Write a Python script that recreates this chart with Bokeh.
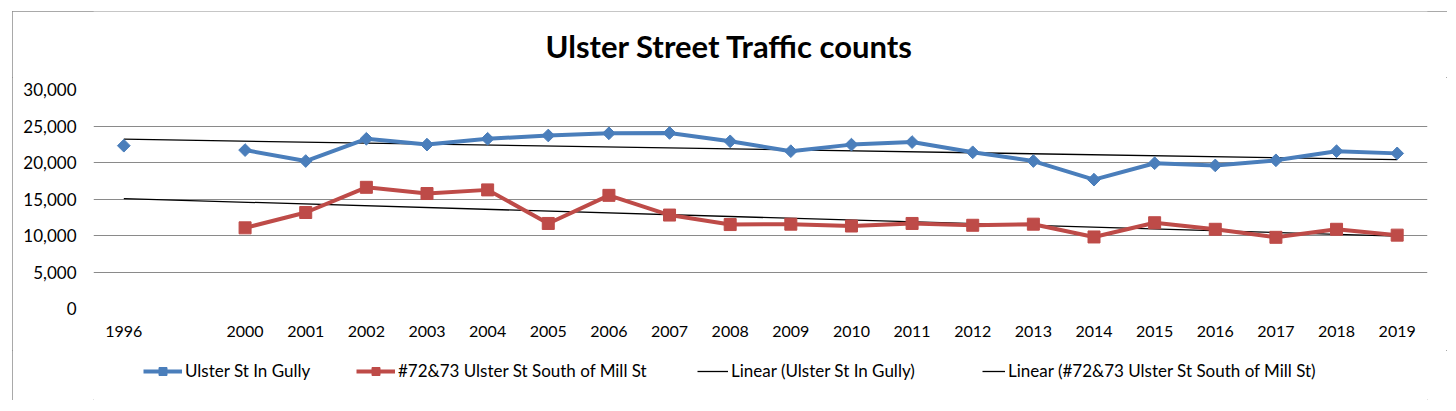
import math
import numpy as np
from bokeh.plotting import figure
from bokeh.layouts import column
from bokeh.models import (FactorRange, Range1d, NumeralTickFormatter, FixedTicker,
                          Legend, LegendItem, Label, ColumnDataSource)
from bokeh.embed import file_html
from bokeh.resources import INLINE

# Count years (an empty slot keeps the gap between 1996 and 2000)
years = ["1996", " ", "2000", "2001", "2002", "2003", "2004", "2005", "2006", "2007",
         "2008", "2009", "2010", "2011", "2012", "2013", "2014", "2015", "2016",
         "2017", "2018", "2019"]

nan = float("nan")
gully = [22300, nan, 21700, 20200, 23250, 22450, 23250, 23700, 24000, 24050,
         22900, 21550, 22450, 22800, 21400, 20200, 17650, 19900, 19600, 20300,
         21550, 21250]
mill = [nan, nan, 11050, 13150, 16600, 15750, 16250, 11650, 15500, 12800,
        11500, 11550, 11300, 11650, 11400, 11550, 9800, 11750, 10850, 9750,
        10850, 10050]

y_ticks = [0, 5000, 10000, 15000, 20000, 25000, 30000]

name_gully = "Ulster St In Gully"
name_mill = "#72&73 Ulster St South of Mill St"
title_text = "Ulster Street Traffic counts"

BLUE = "#4A7EBB"
RED = "#BE4B48"
GRID = "#8A8A8A"
FONT = "Lato"
W = 1435
H_TITLE, H_MAIN, H_LEGEND = 66, 273, 50


def trend(vals):
    """Least-squares line over the category positions (Excel-style linear trendline)."""
    y = np.array(vals, dtype=float)
    x = np.arange(len(y), dtype=float)
    m = ~np.isnan(y)
    slope, icpt = np.polyfit(x[m], y[m], 1)
    return [icpt + slope * x[0], icpt + slope * x[-1]]


def strip(height, **kw):
    f = figure(width=W, height=height, x_axis_type=None, y_axis_type=None,
               output_backend="svg", toolbar_location=None, min_border=0,
               title=None, **kw)
    f.grid.visible = False
    f.outline_line_color = None
    f.background_fill_color = "white"
    f.border_fill_color = "white"
    return f


src = ColumnDataSource(dict(year=years, gully=gully, mill=mill))
ends = [years[0], years[-1]]
gully_fit = trend(gully)
mill_fit = trend(mill)

# ---- title strip (pixel-scaled ranges over the plot frame) ----
tf = strip(H_TITLE, x_range=Range1d(0, 1334), y_range=Range1d(0, H_TITLE))
tf.add_layout(Label(x=636, y=32, text=title_text, text_align="center",
                    text_baseline="alphabetic", text_font=FONT,
                    text_font_style="bold", text_font_size="31px",
                    text_color="#000000"))

# ---- main chart ----
p = figure(width=W, height=H_MAIN, x_range=FactorRange(factors=years),
           y_range=Range1d(0, 30000), output_backend="svg", toolbar_location=None,
           min_border_left=81, min_border_right=20, min_border_top=12,
           min_border_bottom=42, title=None)
p.background_fill_color = "white"
p.border_fill_color = "white"
p.outline_line_color = None

p.yaxis.ticker = FixedTicker(ticks=y_ticks)
p.yaxis.formatter = NumeralTickFormatter(format="0,0")
for ax in (p.xaxis[0], p.yaxis[0]):
    ax.axis_line_color = None
    ax.major_tick_line_color = None
    ax.minor_tick_line_color = None
    ax.major_tick_out = 0
    ax.minor_tick_out = 0
    ax.major_label_text_font = FONT
    ax.major_label_text_color = "#000000"
p.yaxis.major_label_text_font_size = "17px"
p.xaxis.major_label_text_font_size = "16px"
p.yaxis.major_label_standoff = 17
p.xaxis.major_label_standoff = 12

p.xgrid.grid_line_color = None
p.ygrid.ticker = FixedTicker(ticks=y_ticks)
p.ygrid.grid_line_color = GRID
p.ygrid.grid_line_width = 1

p.line(ends, gully_fit, line_color="black", line_width=1.3)
p.line(ends, mill_fit, line_color="black", line_width=1.3)

p.line("year", "gully", source=src, line_color=BLUE, line_width=4)
p.scatter("year", "gully", source=src, marker="square", angle=math.pi / 4,
          size=9, fill_color=BLUE, line_color=BLUE)
p.line("year", "mill", source=src, line_color=RED, line_width=4)
p.scatter("year", "mill", source=src, marker="square", size=12,
          fill_color=RED, line_color=RED)

# ---- legend strip: same series, viewed through a range that keeps them out of sight ----
lf = strip(H_LEGEND, x_range=p.x_range, y_range=Range1d(-2, -1))
g1 = [lf.line("year", "gully", source=src, line_color=BLUE, line_width=4),
      lf.scatter("year", "gully", source=src, marker="square", angle=math.pi / 4,
                 size=9, fill_color=BLUE, line_color=BLUE)]
g2 = [lf.line("year", "mill", source=src, line_color=RED, line_width=4),
      lf.scatter("year", "mill", source=src, marker="square", size=12,
                 fill_color=RED, line_color=RED)]
g3 = [lf.line(ends, gully_fit, line_color="black", line_width=1.3)]
g4 = [lf.line(ends, mill_fit, line_color="black", line_width=1.3)]

entries = [
    (name_gully, g1, 50, 39),
    (name_mill, g2, 263, 39),
    ("Linear (" + name_gully + ")", g3, 604, 31),
    ("Linear (" + name_mill + ")", g4, 889, 23),
]
for label, rends, vx, gw in entries:
    lf.add_layout(Legend(items=[LegendItem(label=label, renderers=rends)],
                         location=(vx, 19), orientation="horizontal",
                         glyph_width=gw, glyph_height=20, label_height=20,
                         label_standoff=3, padding=0, margin=0, spacing=0,
                         border_line_color=None, background_fill_alpha=0,
                         label_text_font=FONT, label_text_font_size="17px",
                         label_text_color="#000000"))

total_h = H_TITLE + H_MAIN + H_LEGEND
page = column(tf, p, lf, spacing=0, width=W, height=total_h, sizing_mode="fixed")
page.styles = {"position": "relative", "left": "12px", "top": "11px",
               "width": f"{W}px", "height": f"{total_h}px",
               "outline": "1px solid #8C8C8C", "outline-offset": "-1px"}

open("out.html", "w").write(file_html(page, INLINE))
